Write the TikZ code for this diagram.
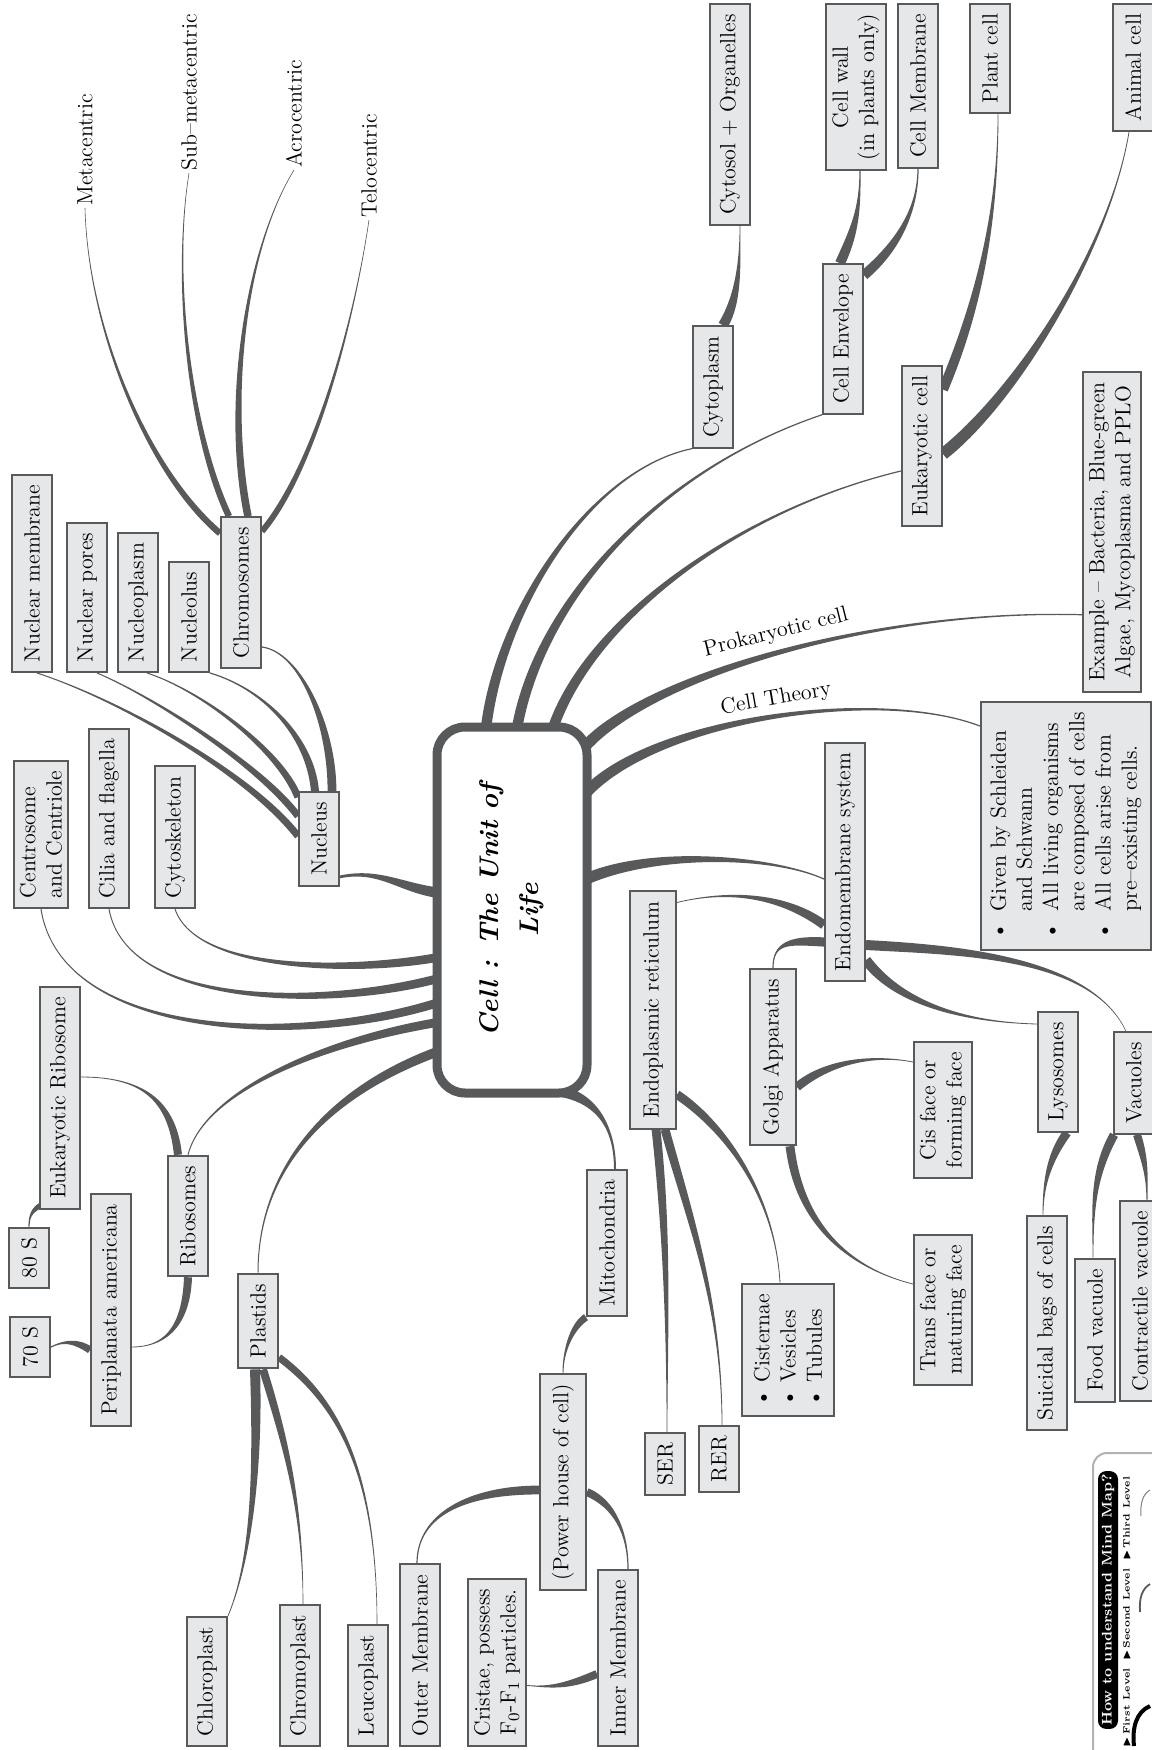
\documentclass[tikz,border=0pt]{standalone}
\usepackage{amssymb}
\usepackage{tikz}
\usetikzlibrary{calc,backgrounds}

\definecolor{mapgray}{RGB}{88,89,91}
\definecolor{boxfill}{RGB}{230,231,232}

% tapered branch: start, end, start control offset, end control offset, start half width, end half width
\newcommand{\twig}[6]{%
  \path (#1) coordinate (p0) (#2) coordinate (p3);
  \path ($(p0)+(#3)$) coordinate (c1) ($(p3)+(#4)$) coordinate (c2);
  \path ($(p0)!#5!90:(c1)$) coordinate (a0) ($(p0)!#5!-90:(c1)$) coordinate (b0)
        ($(p3)!#6!-90:(c2)$) coordinate (a3) ($(p3)!#6!90:(c2)$) coordinate (b3);
  \fill[twig] (a0) .. controls ($(c1)+(a0)-(p0)$) and ($(c2)+(a3)-(p3)$) .. (a3)
    -- (b3) .. controls ($(c2)+(b3)-(p3)$) and ($(c1)+(b0)-(p0)$) .. (b0) -- cycle;}

\begin{document}
\begin{tikzpicture}[x=0.5pt,y=-0.5pt,
    leaf/.style={draw=mapgray,line width=1pt,fill=boxfill,rotate=90,align=center,
      minimum height=20pt,inner xsep=5pt,inner ysep=3pt,font=\fontsize{11}{13.1}\selectfont},
    bare/.style={rotate=90,inner sep=1pt,font=\fontsize{11}{13.1}\selectfont},
    along/.style={inner sep=1pt,font=\fontsize{11}{13.1}\selectfont},
    hub/.style={draw=mapgray,line width=4.5pt,fill=white,rounded corners=14pt,rotate=90,
      minimum width=183pt,minimum height=75pt,align=center,
      font=\fontsize{13.5}{20}\selectfont\bfseries\itshape},
    twig/.style={fill=mapgray}]
  \useasboundingbox (0,0) rectangle (1151,1750);

  % centre
  \node[hub] (hub) at (512,910) {Cell : The Unit of\\Life};

  % nucleus and cytoskeleton side
  \node[leaf] (nucleus) at (319,839) {Nucleus};
  \node[leaf,anchor=west] (nmem) at (32,673) {Nuclear membrane};
  \node[leaf,anchor=west] (npores) at (87,673) {Nuclear pores};
  \node[leaf,anchor=west] (nplasm) at (138,673) {Nucleoplasm};
  \node[leaf,anchor=west] (nucleolus) at (189,673) {Nucleolus};
  \node[leaf,anchor=west] (chromo) at (241,669) {Chromosomes};
  \node[bare,anchor=west] (meta) at (85,208) {Metacentric};
  \node[bare,anchor=west] (submeta) at (189,173) {Sub--metacentric};
  \node[bare,anchor=west] (acro) at (294,170) {Acrocentric};
  \node[bare,anchor=west] (telo) at (369,220) {Telocentric};
  \node[leaf,anchor=west,align=left] (centro) at (41,909) {Centrosome\\and Centriole};
  \node[leaf,anchor=west] (cilia) at (109,909) {Cilia and flagella};
  \node[leaf,anchor=west] (cytosk) at (175,909) {Cytoskeleton};

  % ribosomes and plastids
  \node[leaf] (ribo) at (188,1216) {Ribosomes};
  \node[leaf] (euribo) at (60,1098) {Eukaryotic Ribosome};
  \node[leaf] (s80) at (29,1258) {80 S};
  \node[leaf] (peri) at (111,1310) {Periplanata americana};
  \node[leaf] (s70) at (30,1347) {70 S};
  \node[leaf] (plastid) at (258,1321) {Plastids};
  \node[leaf,anchor=west] (chloro) at (207,1747) {Chloroplast};
  \node[leaf,anchor=west] (chromop) at (300,1747) {Chromoplast};
  \node[leaf,anchor=west] (leuco) at (368,1747) {Leucoplast};

  % mitochondria
  \node[leaf] (mito) at (607,1243) {Mitochondria};
  \node[leaf,minimum height=23pt] (power) at (563,1482) {(Power house of cell)};
  \node[leaf,anchor=west] (outer) at (420,1747) {Outer Membrane};
  \node[leaf,anchor=west] (cristae) at (497,1747) {Cristae, possess\\F$_0$-F$_1$ particles.};
  \node[leaf,anchor=west] (inner) at (618,1747) {Inner Membrane};

  % endomembrane system
  \node[leaf] (endo) at (845,862) {Endomembrane system};
  \node[leaf,minimum height=23pt] (er) at (653,1010) {Endoplasmic reticulum};
  \node[leaf] (ser) at (665,1464) {SER};
  \node[leaf] (rer) at (719,1459) {RER};
  \node[leaf,align=left,minimum height=46pt] (cist) at (788,1350) {\textbullet~Cisternae\\\textbullet~Vesicles\\\textbullet~Tubules};
  \node[leaf,minimum height=23pt] (golgi) at (773,1057) {Golgi Apparatus};
  \node[leaf] (cis) at (943,1110) {Cis face or\\forming face};
  \node[leaf] (trans) at (943,1310) {Trans face or\\maturing face};
  \node[leaf] (lyso) at (1058,1072) {Lysosomes};
  \node[leaf] (suicide) at (1047,1323) {Suicidal bags of cells};
  \node[leaf] (vacu) at (1134,1083) {Vacuoles};
  \node[leaf] (food) at (1095,1330) {Food vacuole};
  \node[leaf] (contract) at (1140,1301) {Contractile vacuole};

  % cell structure and cell types
  \node[leaf] (cyto) at (713,387) {Cytoplasm};
  \node[leaf,anchor=east] (cytosol) at (730,3) {Cytosol + Organelles};
  \node[leaf] (envelope) at (843,339) {Cell Envelope};
  \node[leaf,anchor=east] (wall) at (856,3) {Cell wall\\(in plants only)};
  \node[leaf,anchor=east] (membrane) at (918,3) {Cell Membrane};
  \node[leaf] (eukar) at (922,446) {Eukaryotic cell};
  \node[leaf,anchor=east] (plant) at (990,3) {Plant cell};
  \node[leaf,anchor=east] (animal) at (1133,3) {Animal cell};
  \node[leaf] (example) at (1112,532) {Example -- Bacteria, Blue-green\\Algae, Mycoplasma and PPLO};
  \node[leaf] (theory) at (1066,826) {\begin{tabular}{@{}l@{\hspace{6pt}}l@{}}
    \textbullet & Given by Schleiden\\ & and Schwann\\
    \textbullet & All living organisms\\ & are composed of cells\\
    \textbullet & All cells arise from\\ & pre--existing cells.\end{tabular}};
  \node[along,rotate=14] (prolabel) at (776,633) {Prokaryotic cell};
  \node[along,rotate=10] (theorylabel) at (776,699) {Cell Theory};

  % legend
  \draw[draw=black!30,line width=1pt,rounded corners=7pt] (1093,1453) rectangle (1175,1775);
  \node[fill=black,text=white,rounded corners=4pt,rotate=90,inner sep=1.5pt,
    minimum width=122pt,minimum height=10pt,font=\fontsize{7}{8}\selectfont\bfseries]
    (legendtitle) at (1108,1600) {How to understand Mind Map?};
  \node[rotate=90,inner sep=0pt,font=\fontsize{4.6}{5.5}\selectfont\bfseries] (levels) at (1127,1612)
    {{\tiny$\blacktriangleright$}\,First Level\hspace{4pt}{\tiny$\blacktriangleright$}\,Second Level\hspace{4pt}{\tiny$\blacktriangleright$}\,Third Level};
  \draw[line width=2pt] (1150,1706) .. controls (1136,1712) and (1132,1728) .. (1134,1746);
  \draw[mapgray,line width=0.9pt] (1150,1584) .. controls (1142,1589) and (1139,1598) .. (1140,1612);
  \draw[gray,line width=0.5pt] (1150,1490) .. controls (1143,1494) and (1140,1503) .. (1141,1516);

  \begin{scope}[on background layer]
    % first level
    \twig{$(hub)+(-72,-17)$}{$(nucleus.south west)+(0,-10)$}{-40,-5}{40,-8}{2.6pt}{0.7pt}
    \twig{$(hub)+(-72,47)$}{cytosk.west}{-80,15}{22,65}{2.2pt}{0.25pt}
    \twig{$(hub)+(-72,68)$}{cilia.west}{-110,30}{18,100}{2.2pt}{0.25pt}
    \twig{$(hub)+(-72,92)$}{centro.west}{-140,45}{20,130}{2.2pt}{0.25pt}
    \twig{$(hub)+(-72,112)$}{ribo.east}{-110,18}{17,-66}{2.2pt}{0.25pt}
    \twig{$(hub)+(-70,140)$}{plastid.east}{-112,40}{0,-106}{2.4pt}{0.25pt}
    \twig{$(hub)+(40,180)$}{$(mito.east)+(8,0)$}{48,5}{0,-37}{2.8pt}{0.5pt}
    \twig{$(hub)+(72,-30)$}{$(endo.north)+(0,17)$}{66,-30}{-54,-24}{2.8pt}{0.3pt}
    \twig{$(hub)+(72,-115)$}{$(theory.north east)+(0,25)$}{66,-75}{-104,-40}{2.8pt}{0.3pt}
    \twig{$(hub)+(70,-160)$}{$(example.north west)+(0,-78)$}{58,-70}{-215,-6}{2.8pt}{0.3pt}
    \twig{$(hub)+(-26,-182)$}{cyto.north west}{14,-118}{-102,21}{2.6pt}{0.3pt}
    \twig{$(hub)+(5,-182)$}{envelope.north west}{23,-128}{-163,55}{2.6pt}{0.3pt}
    \twig{$(hub)+(41,-182)$}{$(eukar.north)+(0,25)$}{37,-108}{-163,39}{2.6pt}{0.3pt}
    % nucleus
    \twig{$(nucleus.south east)+(-8,0)$}{$(chromo.south west)+(0,-22)$}{0,-67}{38,5}{2.2pt}{0.3pt}
    \twig{$(nucleus.east)+(-4,0)$}{nucleolus.south west}{-5,-57}{51,15}{2pt}{0.3pt}
    \twig{$(nucleus.north east)+(0,6)$}{$(nplasm.west)+(9,0)$}{-19,-48}{53,17}{1.8pt}{0.25pt}
    \twig{$(nucleus.north east)+(0,25)$}{$(npores.west)+(10,0)$}{-39,-52}{53,22}{1.8pt}{0.25pt}
    \twig{$(nucleus.north east)+(0,45)$}{$(nmem.west)+(5,0)$}{-49,-63}{83,27}{1.8pt}{0.25pt}
    \twig{$(chromo.north east)+(0,17)$}{meta.west}{-71,-60}{3,122}{1.6pt}{0.15pt}
    \twig{$(chromo.east)+(-12,0)$}{submeta.west}{-39,-83}{-17,107}{1.6pt}{0.15pt}
    \twig{$(chromo.east)+(7,0)$}{acro.west}{-23,-113}{-49,80}{1.9pt}{0.15pt}
    \twig{$(chromo.south east)+(0,15)$}{telo.west}{49,-58}{-17,115}{1.5pt}{0.15pt}
    % ribosomes and plastids
    \twig{$(ribo.east)+(-10,0)$}{$(euribo.south)+(0,-21)$}{-6,-56}{60,0}{2pt}{0.2pt}
    \twig{$(euribo.north west)+(2,-5)$}{s80.east}{-8,5}{0,-12}{1.3pt}{0.3pt}
    \twig{ribo.west}{$(peri.south)+(0,37)$}{-2,54}{29,0}{2pt}{0.2pt}
    \twig{$(peri.north)+(0,40)$}{s70.south}{-15,-10}{12,-6}{1.8pt}{0.3pt}
    \twig{$(plastid.west)+(-3,0)$}{chloro.south east}{3,90}{25,-60}{2.5pt}{0.2pt}
    \twig{$(plastid.west)+(5,0)$}{$(chromop.east)+(3,0)$}{25,80}{0,-90}{2pt}{0.15pt}
    \twig{$(plastid.south west)+(0,-12)$}{$(leuco.east)+(9,0)$}{60,45}{0,-150}{1.8pt}{0.15pt}
    % mitochondria
    \twig{mito.north west}{power.east}{-15,10}{0,-20}{1.8pt}{0.25pt}
    \twig{$(power.north)+(0,8)$}{$(outer.east)+(-3,0)$}{-70,0}{0,-50}{2.2pt}{0.3pt}
    \twig{$(power.south)+(0,10)$}{$(inner.east)+(10,0)$}{28,12}{0,-35}{2pt}{0.3pt}
    \twig{$(inner.north)+(0,16)$}{$(cristae.south)+(0,23)$}{-30,13}{22,2}{2pt}{0.2pt}
    % endomembrane system
    \twig{$(endo.north)+(0,63)$}{$(er.south east)+(0,12)$}{-34,-25}{62,-15}{2.3pt}{0.2pt}
    \twig{$(endo.north)+(0,80)$}{golgi.east}{-35,-2}{0,-25}{2.3pt}{0.3pt}
    \twig{$(endo.south)+(0,98)$}{$(lyso.north)+(0,-48)$}{30,40}{-80,-2}{2.5pt}{0.2pt}
    \twig{$(endo.south)+(0,83)$}{$(vacu.east)+(-8,0)$}{90,5}{-35,-75}{2.5pt}{0.15pt}
    \twig{$(golgi.south)+(0,30)$}{$(cis.north)+(0,-48)$}{30,-25}{-40,-8}{2.2pt}{0.2pt}
    \twig{$(golgi.south west)+(-7,0)$}{$(trans.north)+(0,-26)$}{10,85}{-56,-14}{2.2pt}{0.2pt}
    \twig{$(er.west)+(3,0)$}{$(ser.east)+(2,0)$}{12,110}{0,-90}{2.2pt}{0.2pt}
    \twig{$(er.west)+(12,0)$}{$(rer.east)+(3,0)$}{25,90}{0,-120}{2.2pt}{0.2pt}
    \twig{$(er.south west)+(0,-35)$}{$(cist.east)+(-8,0)$}{45,30}{-5,-90}{2.2pt}{0.2pt}
    \twig{$(lyso.south west)+(-12,0)$}{$(suicide.east)+(-4,0)$}{-18,25}{0,-30}{2.2pt}{0.2pt}
    \twig{$(vacu.north west)+(1,0)$}{$(food.east)+(-2,0)$}{-22,40}{0,-45}{2.2pt}{0.2pt}
    \twig{$(vacu.west)+(3,0)$}{$(contract.east)+(7,0)$}{8,25}{0,-25}{2pt}{0.3pt}
    % cell structure and cell types
    \twig{$(cyto.east)+(10,0)$}{$(cytosol.west)+(10,0)$}{15,-25}{0,40}{2.5pt}{0.2pt}
    \twig{$(envelope.east)+(-3,0)$}{$(wall.west)+(4,0)$}{15,-33}{0,38}{2.5pt}{0.3pt}
    \twig{$(envelope.south east)+(0,12)$}{membrane.west}{35,-30}{0,40}{2.5pt}{0.3pt}
    \twig{$(eukar.south east)+(0,25)$}{$(plant.west)+(8,0)$}{40,-95}{0,90}{2.5pt}{0.2pt}
    \twig{$(eukar.south)+(0,8)$}{$(animal.west)+(-4,0)$}{70,-55}{-20,120}{3pt}{0.2pt}
  \end{scope}
\end{tikzpicture}
\end{document}
